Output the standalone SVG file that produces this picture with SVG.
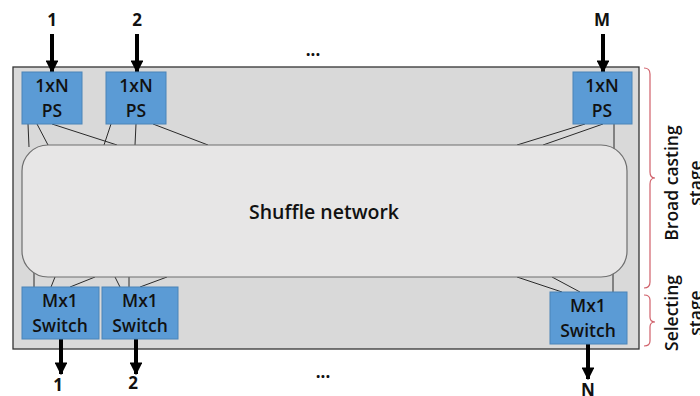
<svg xmlns="http://www.w3.org/2000/svg" width="700" height="396" viewBox="0 0 700 396">
  <defs>
    <marker id="head" viewBox="0 0 10 10" refX="9" refY="5" markerWidth="3.2" markerHeight="3.2" orient="auto" markerUnits="strokeWidth">
      <path d="M0,0 L10,5 L0,10 Z" fill="#000"/>
    </marker>
    <style>
      text { font-family: "Open Sans", "Liberation Sans", sans-serif; fill: #111; }
      .box { fill: #5b9bd5; stroke: #4a84b8; stroke-width: 1; }
      .lbl { font-size: 17.5px; font-weight: 600; text-anchor: middle; }
      .io { font-size: 17px; font-weight: bold; text-anchor: middle; }
      .link { stroke: #2a2a2a; stroke-width: 1; fill: none; }
      .arrow { stroke: #000; stroke-width: 4; fill: none; marker-end: url(#head); }
      .brace { stroke: #d0606a; stroke-width: 1.2; fill: none; }
      .side { font-size: 17.5px; font-weight: 600; text-anchor: middle; }
    </style>
  </defs>

  <rect width="700" height="396" fill="#fff"/>

  <!-- switch fabric enclosure -->
  <rect id="enclosure" x="13" y="67" width="626" height="282" fill="#d9d9d9" stroke="#333" stroke-width="1.3"/>

  <!-- connectors -->
  <g id="connectors">
    <line class="link" x1="28" y1="124" x2="29" y2="147"/>
    <line class="link" x1="37" y1="124" x2="48" y2="145"/>
    <line class="link" x1="52" y1="124" x2="117" y2="145"/>
    <line class="link" x1="111" y1="124" x2="104" y2="145"/>
    <line class="link" x1="136" y1="124" x2="135" y2="145"/>
    <line class="link" x1="153" y1="124" x2="208" y2="145"/>
    <line class="link" x1="585" y1="124" x2="517" y2="145"/>
    <line class="link" x1="603" y1="124" x2="543" y2="145"/>
    <line class="link" x1="614" y1="124" x2="614" y2="150"/>

    <line class="link" x1="34" y1="287" x2="34" y2="272"/>
    <line class="link" x1="51" y1="287" x2="55" y2="277"/>
    <line class="link" x1="70" y1="287" x2="95" y2="277"/>
    <line class="link" x1="120" y1="287" x2="115" y2="277"/>
    <line class="link" x1="129" y1="287" x2="129" y2="277"/>
    <line class="link" x1="140" y1="287" x2="167" y2="277"/>
    <line class="link" x1="562" y1="292" x2="517" y2="277"/>
    <line class="link" x1="580" y1="292" x2="552" y2="277"/>
    <line class="link" x1="613" y1="292" x2="613" y2="272"/>

    <line class="arrow" x1="52" y1="34" x2="52" y2="72"/>
    <line class="arrow" x1="137" y1="34" x2="137" y2="72"/>
    <line class="arrow" x1="603" y1="34" x2="603" y2="72"/>
    <line class="arrow" x1="61" y1="339" x2="61" y2="374"/>
    <line class="arrow" x1="136" y1="339" x2="136" y2="374"/>
    <line class="arrow" x1="588" y1="344" x2="588" y2="379"/>
  </g>

  <!-- shuffle network -->
  <g id="shuffle">
    <rect x="22" y="145" width="605" height="132" rx="26" ry="26" fill="#e7e6e6" stroke="#6e6e6e" stroke-width="1.2"/>
    <text x="324" y="219" font-size="19.5" font-weight="600" text-anchor="middle">Shuffle network</text>
  </g>

  <!-- input splitters -->
  <g id="ps1">
    <rect class="box" x="22" y="72" width="60" height="52"/>
    <text class="lbl" x="52" y="92">1xN</text>
    <text class="lbl" x="52" y="117">PS</text>
  </g>
  <g id="ps2">
    <rect class="box" x="106" y="72" width="60" height="52"/>
    <text class="lbl" x="136" y="92">1xN</text>
    <text class="lbl" x="136" y="117">PS</text>
  </g>
  <g id="psM">
    <rect class="box" x="573" y="72" width="59" height="52"/>
    <text class="lbl" x="602" y="92">1xN</text>
    <text class="lbl" x="602" y="117">PS</text>
  </g>

  <!-- output switches -->
  <g id="sw1">
    <rect class="box" x="22" y="287" width="77" height="52"/>
    <text class="lbl" x="60" y="307">Mx1</text>
    <text class="lbl" x="60" y="332">Switch</text>
  </g>
  <g id="sw2">
    <rect class="box" x="102" y="287" width="76" height="52"/>
    <text class="lbl" x="140" y="307">Mx1</text>
    <text class="lbl" x="140" y="332">Switch</text>
  </g>
  <g id="swN">
    <rect class="box" x="550" y="292" width="77" height="52"/>
    <text class="lbl" x="588" y="312">Mx1</text>
    <text class="lbl" x="588" y="337">Switch</text>
  </g>

  <!-- port labels -->
  <g id="ports">
    <text class="io" x="52" y="26">1</text>
    <text class="io" x="137" y="26">2</text>
    <text class="io" x="602" y="26">M</text>
    <text class="io" x="313" y="56">...</text>
    <text class="io" x="58" y="391">1</text>
    <text class="io" x="133" y="389">2</text>
    <text class="io" x="588" y="396">N</text>
    <text class="io" x="323" y="378">...</text>
  </g>

  <!-- stage braces -->
  <g id="stages">
    <path class="brace" d="M644,68 Q650,68 650,74 L650,172 Q650,178 655,178 Q650,178 650,184 L650,282 Q650,288 644,288"/>
    <path class="brace" d="M644,295 Q650,295 650,300 L650,317 Q650,322 655,322 Q650,322 650,327 L650,341 Q650,346 644,346"/>
    <text class="side" transform="translate(678,183) rotate(-90)">Broad casting</text>
    <text class="side" transform="translate(702,183) rotate(-90)">stage</text>
    <text class="side" transform="translate(678,313) rotate(-90)">Selecting</text>
    <text class="side" transform="translate(702,313) rotate(-90)">stage</text>
  </g>
</svg>
